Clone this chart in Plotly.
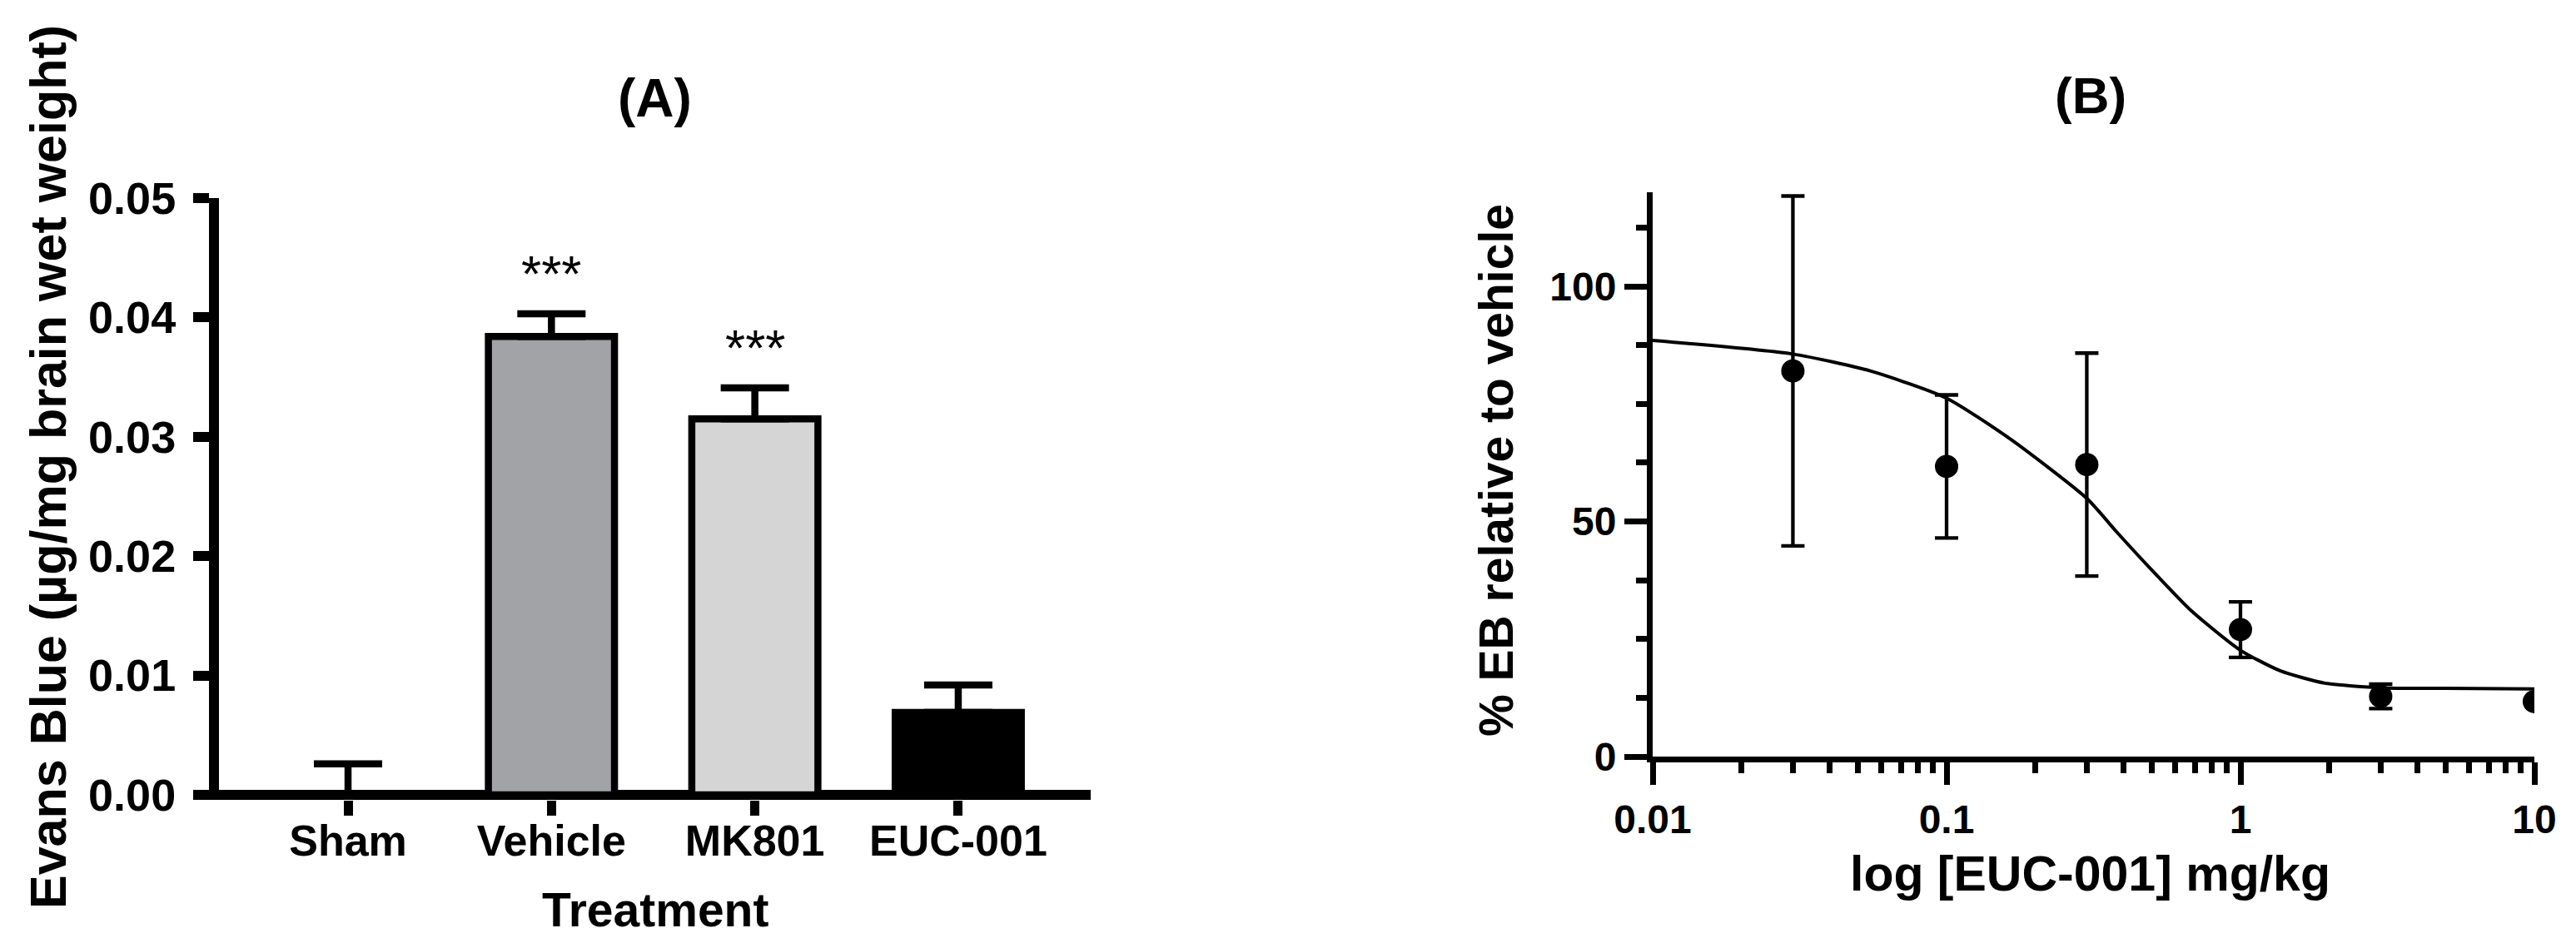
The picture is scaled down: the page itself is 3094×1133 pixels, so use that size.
import plotly.graph_objects as go

W, H = 3094, 1133
FONT = "Liberation Sans, Arial, sans-serif"

# Panel A: Evans Blue extravasation per treatment (mean, upper SEM)
treatments = ["Sham", "Vehicle", "MK801", "EUC-001"]
evans_blue = [0.0, 0.0384, 0.0315, 0.0069]
evans_blue_sem = [0.0026, 0.0019, 0.0026, 0.0023]
bar_colors = ["#ffffff", "#a2a3a7", "#d5d5d5", "#000000"]
significance = ["", "***", "***", ""]
a_yticks = [0, 0.01, 0.02, 0.03, 0.04, 0.05]

# Panel B: dose response, % EB relative to vehicle
doses = [0.03, 0.1, 0.3, 1, 3, 10]
eb_pct = [82.0, 61.7, 62.1, 27.0, 12.8, 11.7]
eb_sem = [37.2, 15.2, 23.7, 5.9, 2.6, 0]
# fitted curve
curve_dose = [0.01, 0.03, 0.055, 0.1, 0.165, 0.3, 0.38, 0.49, 0.68, 1.0, 1.37, 1.94, 3.0, 5.0, 10]
curve_pct = [88.5, 85.6, 82.0, 76.2, 67.5, 54.9, 47.7, 40.2, 31.0, 22.6, 18.2, 15.6, 14.6, 14.5, 14.4]
b_xticks = [0.01, 0.1, 1, 10]
b_xticktext = ["0.01", "0.1", "1", "10"]
b_yticks = [0, 50, 100]
b_yminor = [12.5, 25, 37.5, 62.5, 75, 87.5, 112.5]
b_xminor = [m * d for d in (0.01, 0.1, 1) for m in range(2, 10)]


def px_x(p):
    return p / W


def px_y(p):
    return 1 - p / H


fig = go.Figure()

fig.add_trace(go.Bar(
    x=treatments, y=evans_blue,
    marker=dict(color=bar_colors, line=dict(color="black", width=8.5)),
    width=0.62,
    error_y=dict(type="data", symmetric=False, array=evans_blue_sem,
                 arrayminus=[0] * len(evans_blue), color="black",
                 thickness=8.5, width=41),
    xaxis="x", yaxis="y", showlegend=False,
))

fig.add_trace(go.Scatter(
    x=curve_dose, y=curve_pct, mode="lines",
    line=dict(color="black", width=4, shape="spline", smoothing=0.6),
    xaxis="x2", yaxis="y2", showlegend=False,
))
fig.add_trace(go.Scatter(
    x=doses, y=eb_pct, mode="markers",
    marker=dict(color="black", size=28),
    error_y=dict(type="data", array=eb_sem, color="black", thickness=4.3, width=14),
    xaxis="x2", yaxis="y2", showlegend=False,
))

annotations = []
for t, v, e, s in zip(treatments, evans_blue, evans_blue_sem, significance):
    if s:
        annotations.append(dict(x=t, y=v + e, xref="x", yref="y", text=s,
                                showarrow=False, yanchor="bottom", yshift=12,
                                font=dict(family=FONT, size=62, color="black")))

def label(text, x, y, size, angle=0):
    return dict(x=px_x(x), y=px_y(y), xref="paper", yref="paper", text=text,
                showarrow=False, xanchor="center", yanchor="middle", textangle=angle,
                font=dict(family=FONT, size=size, color="black", weight="bold"))

annotations += [
    label("(A)", 778, 110, 64),
    label("(B)", 2503, 106, 62),
    label("Treatment", 779, 1085, 57),
    label("Evans Blue (µg/mg brain wet weight)", 50, 553, 61, -90),
    label("log [EUC-001] mg/kg", 2502, 1042, 59),
    label("% EB relative to vehicle", 1789, 557, 57, -90),
]

fig.update_layout(
    width=W, height=H, autosize=False,
    margin=dict(l=0, r=0, t=0, b=0, pad=0, autoexpand=False),
    paper_bgcolor="white", plot_bgcolor="white",
    font=dict(family=FONT, color="black"),
    annotations=annotations,
    xaxis=dict(
        domain=[px_x(255), px_x(1302)], anchor="y",
        type="category", range=[-0.6345, 3.651],
        showline=False, showgrid=False, zeroline=False, automargin=False,
        ticks="outside", ticklen=18, tickwidth=11, tickcolor="black",
        ticklabelstandoff=-14,
        tickfont=dict(family=FONT, size=52, color="black", weight="bold"),
    ),
    yaxis=dict(
        domain=[px_y(953), px_y(230)], anchor="x",
        range=[-0.00042, 0.05], tickvals=a_yticks, tickformat=".2f",
        showline=True, linewidth=12, linecolor="black",
        zeroline=True, zerolinewidth=12, zerolinecolor="black",
        showgrid=False, layer="above traces", automargin=False,
        ticks="outside", ticklen=19, tickwidth=12, tickcolor="black",
        ticklabelstandoff=10,
        tickfont=dict(family=FONT, size=54, color="black", weight="bold"),
    ),
    xaxis2=dict(
        domain=[px_x(1977), px_x(3036)], anchor="y2",
        type="log", range=[-2, 1], tickvals=b_xticks, ticktext=b_xticktext,
        showline=True, linewidth=7, linecolor="black",
        showgrid=False, zeroline=False, automargin=False,
        ticks="outside", ticklen=27, tickwidth=7, tickcolor="black",
        minor=dict(tickvals=b_xminor, ticks="outside", ticklen=13,
                   tickwidth=7, tickcolor="black", showgrid=False),
        tickfont=dict(family=FONT, size=48, color="black", weight="bold"),
    ),
    yaxis2=dict(
        domain=[px_y(901), px_y(223)], anchor="x2",
        range=[0, 120], tickvals=b_yticks,
        showline=True, linewidth=7, linecolor="black",
        showgrid=False, zeroline=False, automargin=False,
        ticks="outside", ticklen=27, tickwidth=7, tickcolor="black",
        minor=dict(tickvals=b_yminor, ticks="outside", ticklen=13,
                   tickwidth=7, tickcolor="black", showgrid=False),
        tickfont=dict(family=FONT, size=48, color="black", weight="bold"),
    ),
)

fig.write_html("out.html")
